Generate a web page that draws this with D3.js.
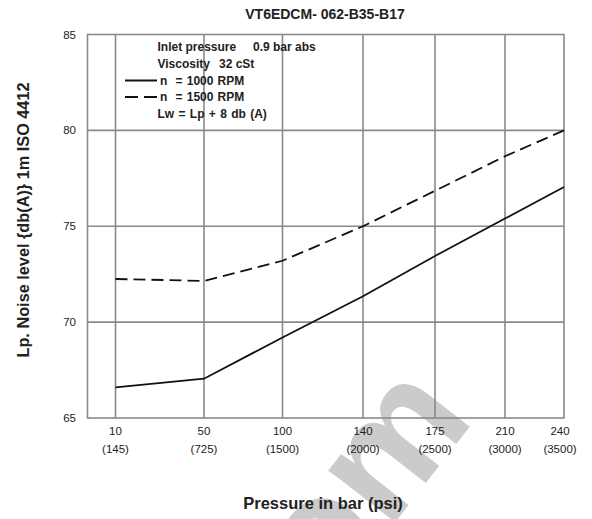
<!DOCTYPE html>
<html>
<head>
<meta charset="utf-8">
<script src="https://cdn.jsdelivr.net/npm/d3@7"></script>
<style>
  body { margin: 0; background: #fff; }
  svg { display: block; font-family: "Liberation Sans", Arial, sans-serif; }
</style>
</head>
<body>
<svg id="chart" width="592" height="519"></svg>
<script>
// ================================
// DATA
// ================================
const pressureBar = [10, 50, 100, 140, 175, 210, 240];
const pressurePsi = [145, 725, 1500, 2000, 2500, 3000, 3500];
const noise1000 = [66.6, 67.05, 69.2, 71.35, 73.45, 75.4, 77.05];
const noise1500 = [72.25, 72.15, 73.2, 75.0, 76.85, 78.65, 80.0];
const yTicks = [65, 70, 75, 80, 85];

const title = "VT6EDCM- 062-B35-B17";

const width = 592;
const height = 519;
const margin = { top: 34.5, right: 28, bottom: 101, left: 87.5 };
const plotW = width - margin.left - margin.right;

// the pressure axis is not uniform in the original, gridlines sit at these offsets
const gridOffsets = [28, 116.5, 195, 275.5, 347.5, 417.5, 476.5];

const xScale = d3.scaleLinear()
  .domain(pressureBar)
  .range(gridOffsets.map(o => margin.left + o));
const yScale = d3.scaleLinear()
  .domain([65, 85])
  .range([height - margin.bottom, margin.top]);

const svg = d3.select("#chart");
const grey = "#8a8a8a";

// watermark
svg.append("text")
  .attr("transform", "translate(328,608) rotate(-52)")
  .attr("font-size", 160)
  .attr("font-weight", "bold")
  .attr("fill", "#cbcbcb")
  .text("om");

// ================================
// GRID + FRAME
// ================================
svg.append("g")
  .selectAll("line")
  .data(yTicks.slice(1, -1))
  .join("line")
  .attr("x1", margin.left)
  .attr("x2", width - margin.right)
  .attr("y1", d => yScale(d))
  .attr("y2", d => yScale(d))
  .attr("stroke", grey)
  .attr("stroke-width", 1.6);

svg.append("g")
  .selectAll("line")
  .data(pressureBar.slice(0, -1))
  .join("line")
  .attr("x1", d => xScale(d))
  .attr("x2", d => xScale(d))
  .attr("y1", yScale(85))
  .attr("y2", yScale(65))
  .attr("stroke", grey)
  .attr("stroke-width", 1.6);

svg.append("rect")
  .attr("x", margin.left)
  .attr("y", yScale(85))
  .attr("width", plotW)
  .attr("height", yScale(65) - yScale(85))
  .attr("fill", "none")
  .attr("stroke", grey)
  .attr("stroke-width", 1.6);

// ================================
// LINES
// ================================
const lineGen = d3.line()
  .x((d, i) => xScale(pressureBar[i]))
  .y(d => yScale(d));

svg.append("path")
  .datum(noise1000)
  .attr("d", lineGen)
  .attr("fill", "none")
  .attr("stroke", "#111")
  .attr("stroke-width", 1.8);

svg.append("path")
  .datum(noise1500)
  .attr("d", lineGen)
  .attr("fill", "none")
  .attr("stroke", "#111")
  .attr("stroke-width", 1.8)
  .attr("stroke-dasharray", "12,6");

// ================================
// AXES TEXT
// ================================
svg.append("g")
  .selectAll("text")
  .data(yTicks)
  .join("text")
  .attr("x", 76)
  .attr("y", d => yScale(d) + 4)
  .attr("text-anchor", "end")
  .attr("font-size", 11.5)
  .attr("fill", "#222")
  .text(d => d);

const xLab = svg.append("g")
  .selectAll("g")
  .data(pressureBar)
  .join("g")
  .attr("transform", (d, i) => `translate(${i === pressureBar.length - 1 ? xScale(d) - 4 : xScale(d)},0)`);

xLab.append("text")
  .attr("y", 435)
  .attr("text-anchor", "middle")
  .attr("font-size", 11.5)
  .attr("fill", "#222")
  .text(d => d);

xLab.append("text")
  .attr("y", 453)
  .attr("text-anchor", "middle")
  .attr("font-size", 11.5)
  .attr("fill", "#222")
  .text((d, i) => `(${pressurePsi[i]})`);

svg.append("text")
  .attr("x", 323)
  .attr("y", 509)
  .attr("text-anchor", "middle")
  .attr("font-size", 16.5)
  .attr("font-weight", "bold")
  .attr("fill", "#222")
  .text("Pressure in bar (psi)");

svg.append("text")
  .attr("transform", "translate(29,220) rotate(-90)")
  .attr("text-anchor", "middle")
  .attr("font-size", 16.3)
  .attr("font-weight", "bold")
  .attr("fill", "#222")
  .text("Lp. Noise level {db(A)} 1m ISO 4412");

svg.append("text")
  .attr("x", 325)
  .attr("y", 19)
  .attr("text-anchor", "middle")
  .attr("font-size", 14)
  .attr("font-weight", "bold")
  .attr("fill", "#222")
  .text(title);

// ================================
// LEGEND / NOTES
// ================================
const note = (x, y, s, ws) => svg.append("text")
  .attr("x", x).attr("y", y)
  .attr("font-size", 12)
  .attr("font-weight", "bold")
  .attr("fill", "#222")
  .attr("word-spacing", ws || 0)
  .attr("xml:space", "preserve")
  .text(s);

note(157.5, 51, "Inlet pressure");
note(253, 51, "0.9 bar abs");
note(157.5, 67.5, "Viscosity");
note(219, 67.5, "32 cSt");
note(160, 84.5, "n  = 1000 RPM", 0.8);
note(160, 101, "n  = 1500 RPM", 0.8);
note(157.5, 117.5, "Lw = Lp + 8 db (A)", 1);

svg.append("line")
  .attr("x1", 125).attr("x2", 157)
  .attr("y1", 80.5).attr("y2", 80.5)
  .attr("stroke", "#111").attr("stroke-width", 2);

svg.append("line")
  .attr("x1", 125).attr("x2", 157)
  .attr("y1", 97).attr("y2", 97)
  .attr("stroke", "#111").attr("stroke-width", 2)
  .attr("stroke-dasharray", "13,6");
</script>
</body>
</html>
